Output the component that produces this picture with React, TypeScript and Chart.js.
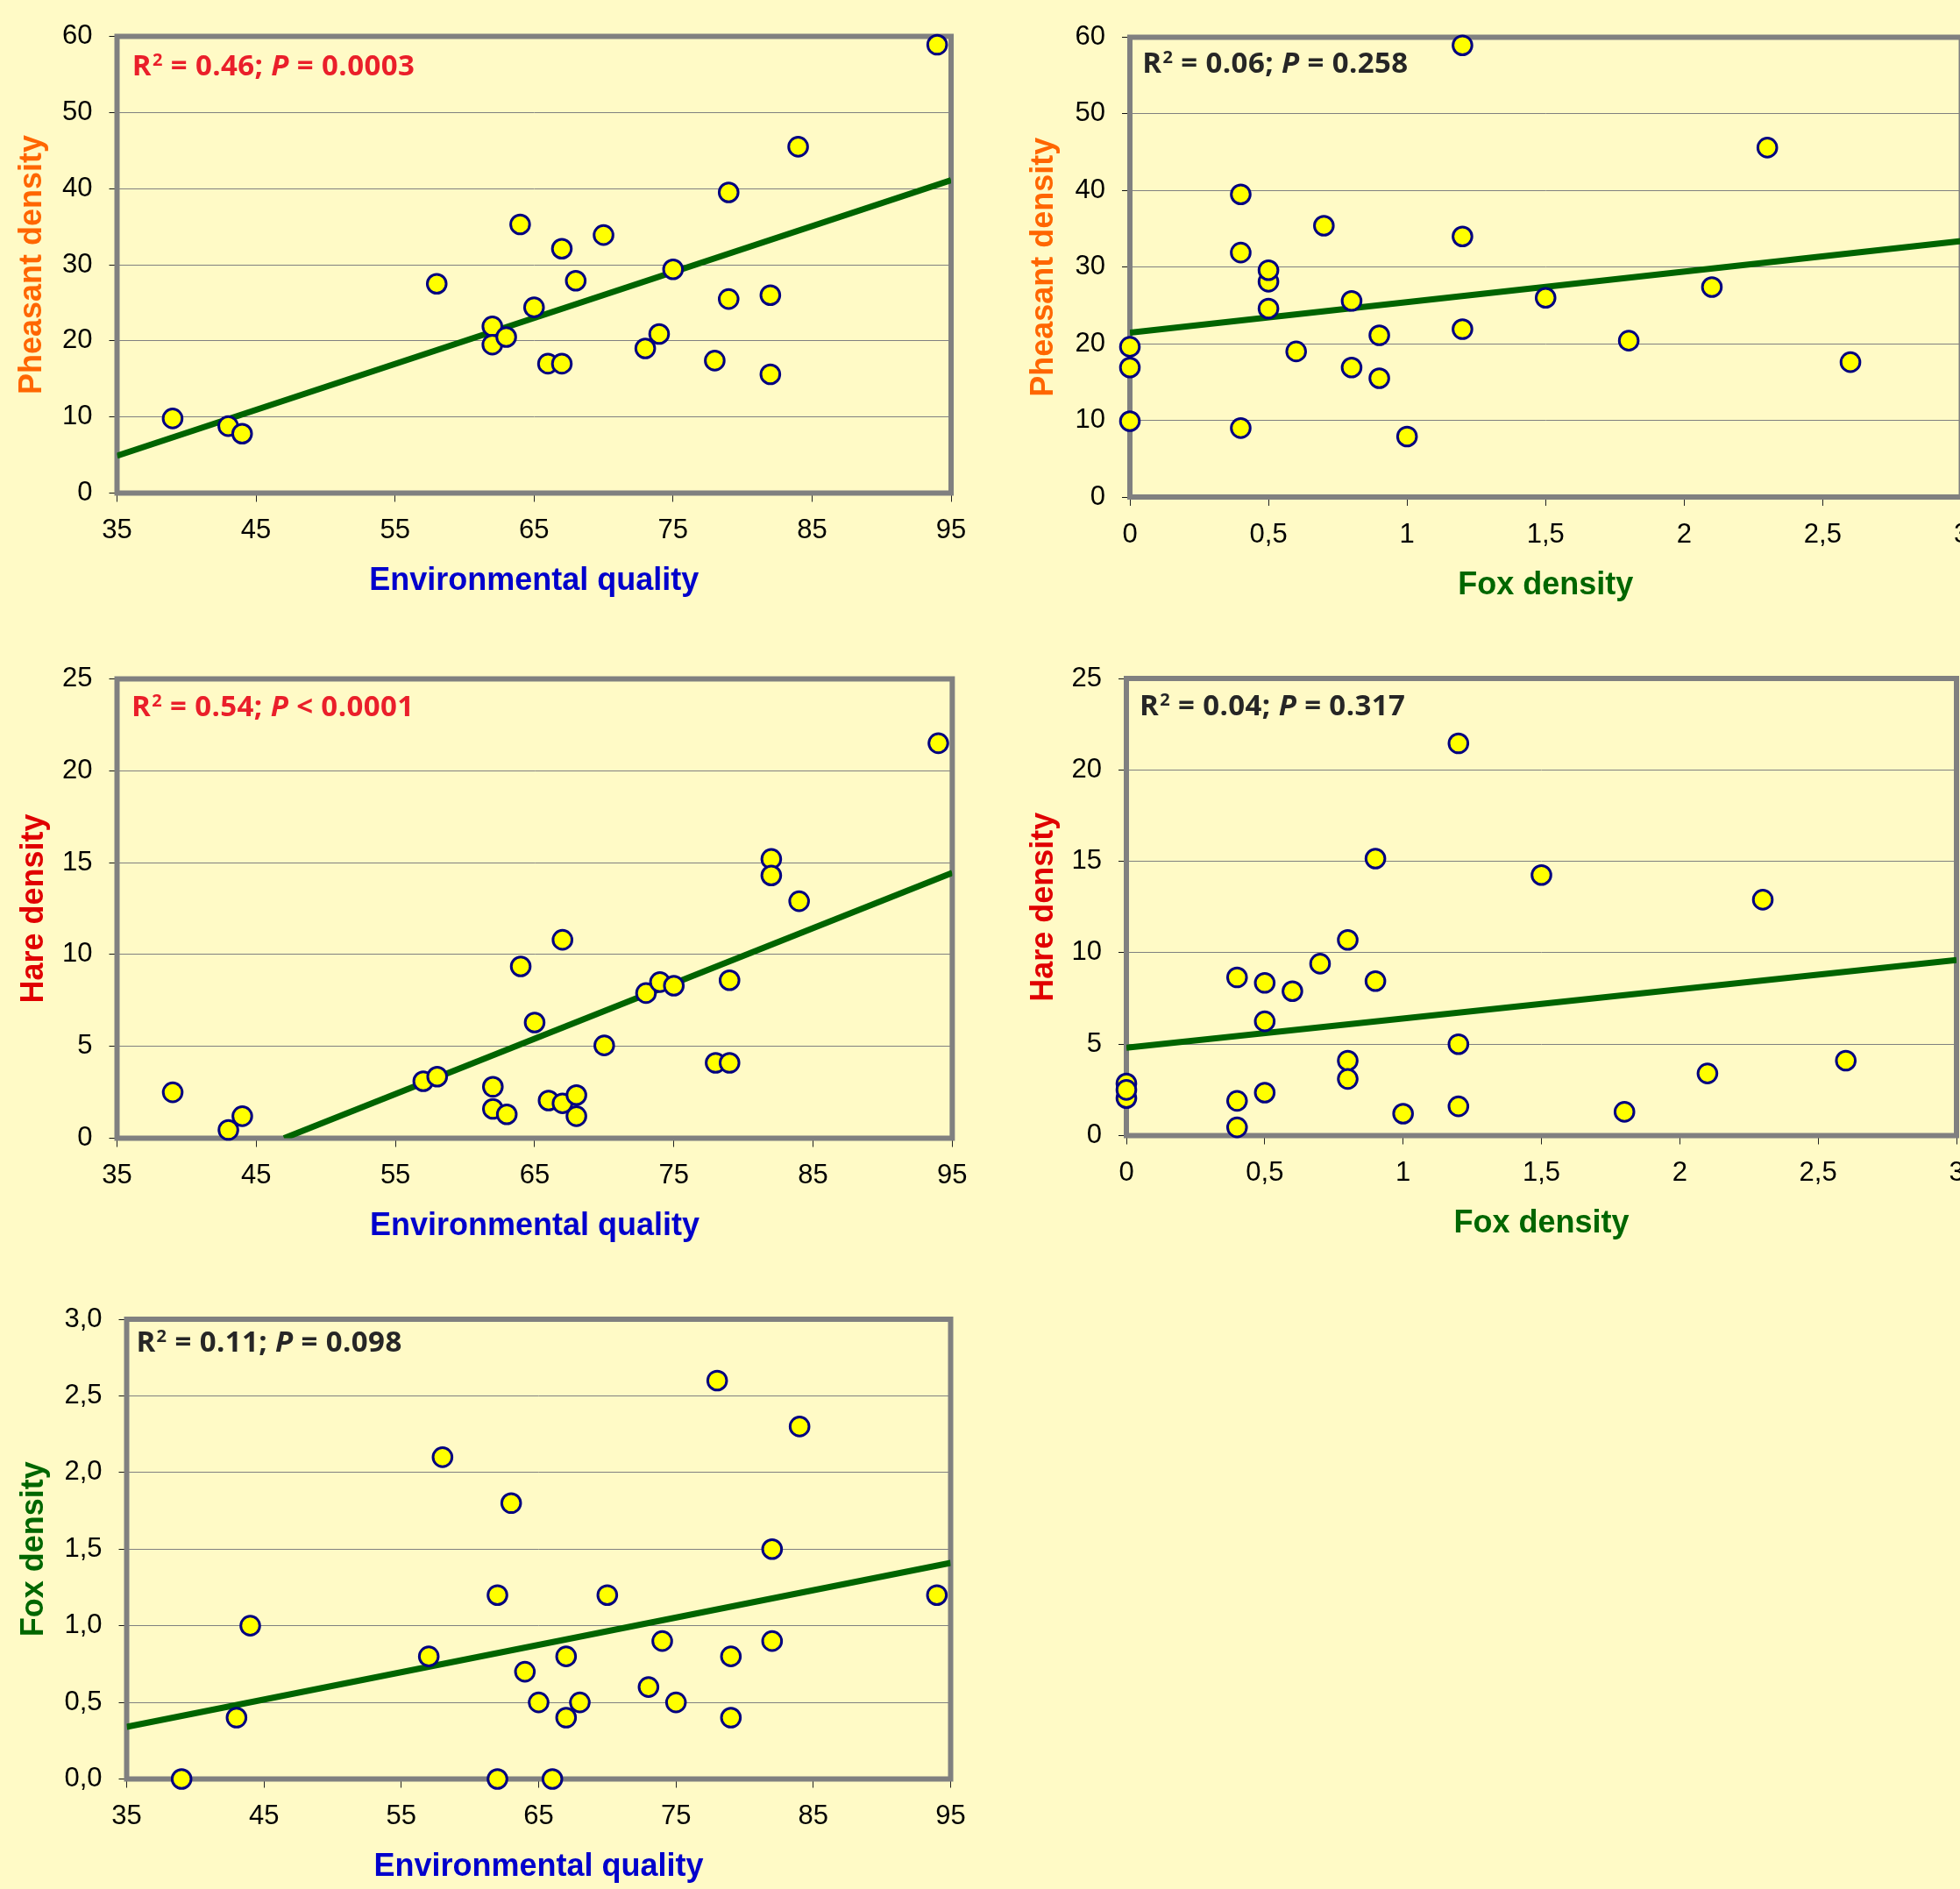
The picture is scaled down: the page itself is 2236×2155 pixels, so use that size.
import React, { useEffect, useRef } from 'react';
import { Chart, registerables } from 'chart.js';

Chart.register(...registerables);

// ---------------- data ----------------
// Panel 1: Environmental quality vs Pheasant density
const envForPheasant = [39, 43, 44, 58, 62, 62, 63, 64, 65, 66, 67, 67, 68, 70, 73, 74, 75, 78, 79, 79, 82, 82, 84, 94];
const pheasantByEnv = [9.8, 8.8, 7.8, 27.5, 21.9, 19.5, 20.5, 35.3, 24.4, 17.0, 17.0, 32.1, 27.9, 33.9, 19.0, 20.9, 29.4, 17.4, 25.5, 39.5, 26.0, 15.6, 45.5, 58.9];
const envPheasantTrendX = [35, 95];
const envPheasantTrendY = [4.9, 41.1];

// Panel 2: Fox density vs Pheasant density
const foxForPheasant = [0, 0, 0, 0.4, 0.4, 0.4, 0.5, 0.5, 0.5, 0.6, 0.7, 0.8, 0.8, 0.9, 0.9, 1.0, 1.2, 1.2, 1.2, 1.5, 1.8, 2.1, 2.3, 2.6];
const pheasantByFox = [19.6, 16.9, 9.9, 39.5, 31.9, 9.0, 28.1, 29.6, 24.6, 19.0, 35.4, 25.6, 16.9, 21.1, 15.5, 7.9, 58.95, 34.0, 21.9, 26.0, 20.4, 27.4, 45.6, 17.6];
const foxPheasantTrendX = [0, 3];
const foxPheasantTrendY = [21.45, 33.4];

// Panel 3: Environmental quality vs Hare density
const envForHare = [39, 43, 44, 57, 58, 62, 62, 63, 64, 65, 66, 67, 67, 68, 68, 70, 73, 74, 75, 78, 79, 79, 82, 82, 84, 94];
const hareByEnv = [2.5, 0.45, 1.2, 3.1, 3.35, 2.8, 1.6, 1.3, 9.35, 6.3, 2.05, 10.8, 1.9, 2.35, 1.2, 5.05, 7.9, 8.5, 8.3, 4.1, 8.6, 4.1, 15.2, 14.3, 12.9, 21.5];
const envHareTrendX = [47.0, 95];
const envHareTrendY = [0, 14.45];

// Panel 4: Fox density vs Hare density
const foxForHare = [0, 0, 0, 0.4, 0.4, 0.4, 0.5, 0.5, 0.5, 0.6, 0.7, 0.8, 0.8, 0.8, 0.9, 0.9, 1.0, 1.2, 1.2, 1.2, 1.5, 1.8, 2.1, 2.3, 2.6];
const hareByFox = [2.85, 2.05, 2.5, 8.65, 1.9, 0.45, 8.35, 6.25, 2.35, 7.9, 9.4, 10.7, 4.1, 3.1, 15.15, 8.45, 1.2, 21.45, 5.0, 1.6, 14.25, 1.3, 3.4, 12.9, 4.1];
const foxHareTrendX = [0, 3];
const foxHareTrendY = [4.8, 9.6];

// Panel 5: Environmental quality vs Fox density
const envForFox = [39, 43, 44, 57, 58, 62, 62, 63, 64, 65, 66, 67, 67, 68, 70, 73, 74, 75, 78, 79, 79, 82, 82, 84, 94];
const foxByEnv = [0, 0.4, 1.0, 0.8, 2.1, 1.2, 0, 1.8, 0.7, 0.5, 0, 0.8, 0.4, 0.5, 1.2, 0.6, 0.9, 0.5, 2.6, 0.8, 0.4, 1.5, 0.9, 2.3, 1.2];
const envFoxTrendX = [35, 95];
const envFoxTrendY = [0.34, 1.41];

// tick labels
const envTickLabels = ['35', '45', '55', '65', '75', '85', '95'];
const foxXTickLabels = ['0', '0,5', '1', '1,5', '2', '2,5', '3'];
const pheasantTickLabels = ['0', '10', '20', '30', '40', '50', '60'];
const hareTickLabels = ['0', '5', '10', '15', '20', '25'];
const foxYTickLabels = ['0,0', '0,5', '1,0', '1,5', '2,0', '2,5', '3,0'];

// statistics annotations
const noteR2 = ['0.46', '0.06', '0.54', '0.04', '0.11'];
const noteRel = ['=', '=', '<', '=', '='];
const noteP = ['0.0003', '0.258', '0.0001', '0.317', '0.098'];

// ---------------- styles ----------------
const BG = '#FFFAC6';
const FRAME = '#808080';
const TREND = '#006400';
const ORANGE = '#FF6600';
const RED = '#E00000';
const GREEN = '#006600';
const BLUE = '#0000CC';
const NOTE_RED = '#EA1F2A';
const NOTE_DARK = '#262626';
const ARIAL = '"Liberation Sans", Arial, Helvetica, sans-serif';
const NOTE_FONT = '"Open Sans", "Noto Sans", "DejaVu Sans", sans-serif';
const TICK_SIZE = 31;

type Axis = { min: number; max: number; step: number; labels: string[]; title: string; color: string };
type PanelDef = {
  xs: number[]; ys: number[]; tx: number[]; ty: number[];
  x: Axis; y: Axis; noteColor: string; idx: number;
  canvas: [number, number, number, number];
  area: [number, number, number, number];
  yTitleMid: number; note: [number, number];
};

const envAxis = (): Axis => ({ min: 35, max: 95, step: 10, labels: envTickLabels, title: 'Environmental quality', color: BLUE });
const foxXAxis = (): Axis => ({ min: 0, max: 3, step: 0.5, labels: foxXTickLabels, title: 'Fox density', color: GREEN });

const panels: PanelDef[] = [
  {
    idx: 0, xs: envForPheasant, ys: pheasantByEnv, tx: envPheasantTrendX, ty: envPheasantTrendY,
    x: envAxis(), y: { min: 0, max: 60, step: 10, labels: pheasantTickLabels, title: 'Pheasant density', color: ORANGE },
    noteColor: NOTE_RED,
    canvas: [0, 0, 1118, 730], area: [133.5, 41.5, 1085, 562.5], yTitleMid: 37.5, note: [150.7, 86],
  },
  {
    idx: 1, xs: foxForPheasant, ys: pheasantByFox, tx: foxPheasantTrendX, ty: foxPheasantTrendY,
    x: foxXAxis(), y: { min: 0, max: 60, step: 10, labels: pheasantTickLabels, title: 'Pheasant density', color: ORANGE },
    noteColor: NOTE_DARK,
    canvas: [1118, 0, 1152, 730], area: [1289, 42.5, 2237.5, 567], yTitleMid: 1191.5, note: [1303.3, 82.7],
  },
  {
    idx: 2, xs: envForHare, ys: hareByEnv, tx: envHareTrendX, ty: envHareTrendY,
    x: envAxis(), y: { min: 0, max: 25, step: 5, labels: hareTickLabels, title: 'Hare density', color: RED },
    noteColor: NOTE_RED,
    canvas: [0, 730, 1118, 730], area: [133.5, 774.5, 1087.5, 1298.5], yTitleMid: 38.8, note: [150, 817],
  },
  {
    idx: 3, xs: foxForHare, ys: hareByFox, tx: foxHareTrendX, ty: foxHareTrendY,
    x: foxXAxis(), y: { min: 0, max: 25, step: 5, labels: hareTickLabels, title: 'Hare density', color: RED },
    noteColor: NOTE_DARK,
    canvas: [1118, 730, 1152, 730], area: [1285, 774, 2232, 1295.5], yTitleMid: 1191, note: [1300, 816],
  },
  {
    idx: 4, xs: envForFox, ys: foxByEnv, tx: envFoxTrendX, ty: envFoxTrendY,
    x: envAxis(), y: { min: 0, max: 3, step: 0.5, labels: foxYTickLabels, title: 'Fox density', color: GREEN },
    noteColor: NOTE_DARK,
    canvas: [0, 1460, 1118, 695], area: [144.5, 1505, 1084.5, 2029.5], yTitleMid: 39, note: [155.4, 1542],
  },
];

function drawNote(ctx: CanvasRenderingContext2D, x: number, y: number, color: string, r2: string, rel: string, p: string) {
  ctx.save();
  ctx.fillStyle = color;
  ctx.textAlign = 'left';
  ctx.textBaseline = 'alphabetic';
  try { (ctx as any).letterSpacing = '0.4px'; } catch (e) { /* ignore */ }
  const big = `bold 33px ${NOTE_FONT}`;
  ctx.font = big;
  ctx.fillText('R', x, y);
  x += ctx.measureText('R').width;
  ctx.font = `bold 20px ${NOTE_FONT}`;
  ctx.fillText('2', x + 1, y - 11);
  x += ctx.measureText('2').width + 1;
  ctx.font = big;
  const s1 = ` = ${r2}; `;
  ctx.fillText(s1, x, y);
  x += ctx.measureText(s1).width;
  ctx.font = `italic bold 33px ${NOTE_FONT}`;
  ctx.fillText('P', x, y);
  x += ctx.measureText('P').width;
  ctx.font = big;
  ctx.fillText(` ${rel} ${p}`, x, y);
  ctx.restore();
}

function buildConfig(p: PanelDef): any {
  const [cl, ct, cw, ch] = p.canvas;
  const [al, at, ar, ab] = p.area;
  const yAxisWidth = al - cl;
  const xAxisHeight = ct + ch - ab;
  const titleLH = 36 * 1.2;
  const yTitlePadTop = p.yTitleMid - cl - titleLH / 2;
  const xTitleMid = ab + 101;
  const xTitlePadBottom = ct + ch - xTitleMid - titleLH / 2;

  const points = p.xs.map((v, i) => ({ x: v, y: p.ys[i] }));
  const trend = p.tx.map((v, i) => ({ x: v, y: p.ty[i] }));

  const framePlugin = {
    id: 'frameAndNote' + p.idx,
    beforeDatasetsDraw(chart: any) {
      const { ctx, chartArea: a } = chart;
      ctx.save();
      ctx.strokeStyle = FRAME;
      ctx.lineWidth = 6;
      ctx.lineJoin = 'miter';
      ctx.strokeRect(a.left, a.top, a.right - a.left, a.bottom - a.top);
      ctx.restore();
    },
    afterDraw(chart: any) {
      drawNote(chart.ctx, p.note[0] - cl, p.note[1] - ct, p.noteColor, noteR2[p.idx], noteRel[p.idx], noteP[p.idx]);
    },
  };

  return {
    type: 'scatter',
    data: {
      datasets: [
        {
          type: 'scatter',
          data: points,
          pointRadius: 10.8,
          pointBorderWidth: 3,
          pointBackgroundColor: '#FFFF00',
          pointBorderColor: '#000080',
          clip: false,
          order: 0,
        },
        {
          type: 'line',
          data: trend,
          borderColor: TREND,
          borderWidth: 7,
          pointRadius: 0,
          fill: false,
          order: 1,
          clip: 0,
        },
      ],
    },
    options: {
      responsive: false,
      maintainAspectRatio: false,
      animation: false,
      devicePixelRatio: 1,
      events: [],
      layout: { padding: { left: 0, top: at - ct, right: cl + cw - ar, bottom: 0 } },
      plugins: { legend: { display: false }, tooltip: { enabled: false } },
      scales: {
        x: {
          type: 'linear',
          position: 'bottom',
          min: p.x.min,
          max: p.x.max,
          afterFit: (s: any) => { s.height = xAxisHeight; },
          ticks: {
            stepSize: p.x.step,
            color: '#000',
            font: { family: ARIAL, size: TICK_SIZE },
            padding: 43 - 10 - TICK_SIZE * 0.6,
            maxRotation: 0,
            autoSkip: false,
            callback: (v: any, i: number) => p.x.labels[i] ?? String(v),
          },
          grid: { drawOnChartArea: false, drawTicks: true, tickLength: 10, tickColor: '#222', tickWidth: 1 },
          border: { display: false },
          title: {
            display: true,
            text: p.x.title,
            color: p.x.color,
            font: { family: ARIAL, size: 36, weight: 'bold' },
            padding: { top: 0, bottom: xTitlePadBottom },
          },
        },
        y: {
          type: 'linear',
          position: 'left',
          min: p.y.min,
          max: p.y.max,
          afterFit: (s: any) => { s.width = yAxisWidth; },
          ticks: {
            stepSize: p.y.step,
            color: '#000',
            font: { family: ARIAL, size: TICK_SIZE },
            padding: 19,
            autoSkip: false,
            callback: (v: any, i: number) => p.y.labels[i] ?? String(v),
          },
          grid: { color: '#808080', lineWidth: 1, drawTicks: true, tickLength: 9, tickColor: '#111', tickWidth: 1 },
          border: { display: false },
          title: {
            display: true,
            text: p.y.title,
            color: p.y.color,
            font: { family: ARIAL, size: 36, weight: 'bold' },
            padding: { top: yTitlePadTop, bottom: 0 },
          },
        },
      },
    },
    plugins: [framePlugin],
  };
}

function Panel({ p }: { p: PanelDef }) {
  const ref = useRef<HTMLCanvasElement>(null);
  useEffect(() => {
    if (!ref.current) return;
    const chart = new Chart(ref.current, buildConfig(p));
    return () => chart.destroy();
  }, [p]);
  const [cl, ct, cw, ch] = p.canvas;
  return (
    <canvas
      ref={ref}
      width={cw}
      height={ch}
      style={{ position: 'absolute', left: cl, top: ct, width: cw, height: ch, display: 'block' }}
    />
  );
}

export default function App() {
  useEffect(() => {
    document.body.style.margin = '0';
    document.body.style.background = BG;
  }, []);
  return (
    <div style={{ position: 'absolute', left: 0, top: 0, width: 2236, height: 2155, overflow: 'hidden', background: BG }}>
      {panels.map((p) => (
        <Panel key={p.idx} p={p} />
      ))}
    </div>
  );
}
